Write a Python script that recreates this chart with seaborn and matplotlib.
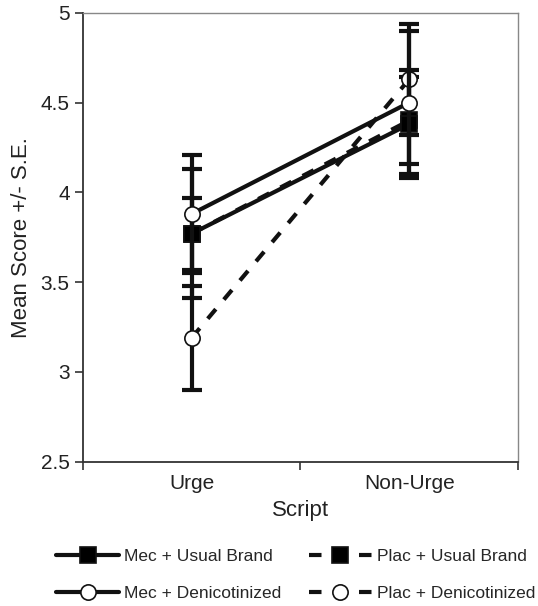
import matplotlib
matplotlib.use("Agg")
import matplotlib.pyplot as plt
import seaborn as sns

# Data
scripts = ["Urge", "Non-Urge"]
series_names = [
    "Mec + Usual Brand",
    "Mec + Denicotinized",
    "Plac + Usual Brand",
    "Plac + Denicotinized",
]
mec_usual = [3.77, 4.38]
mec_usual_se = [0.36, 0.30]
mec_denic = [3.88, 4.50]
mec_denic_se = [0.33, 0.40]
plac_usual = [3.77, 4.40]
plac_usual_se = [0.20, 0.24]
plac_denic = [3.19, 4.63]
plac_denic_se = [0.29, 0.31]

sns.set_style("ticks")
plt.rcParams["font.family"] = ["Liberation Sans", "DejaVu Sans"]

fig = plt.figure(figsize=(5.38, 6.06), dpi=100)
ax = fig.add_axes([0.154, 0.238, 0.809, 0.741])

series = [
    (plac_usual, plac_usual_se, "s", "black", (0, (3, 3)), series_names[2]),
    (plac_denic, plac_denic_se, "o", "white", (0, (3, 3)), series_names[3]),
    (mec_usual, mec_usual_se, "s", "black", "-", series_names[0]),
    (mec_denic, mec_denic_se, "o", "white", "-", series_names[1]),
]

handles = {}
for i, (vals, se, mk, face, ls, name) in enumerate(series):
    ax.errorbar(scripts, vals, yerr=se, fmt="none", ecolor="#111111",
                elinewidth=3, capsize=7, capthick=3, zorder=2 + i)
    sns.lineplot(x=scripts, y=vals, ax=ax, color="#111111", linewidth=3,
                 linestyle=ls, marker=mk, markersize=12 if mk == "s" else 11,
                 markerfacecolor=face, markeredgecolor="#111111",
                 markeredgewidth=1.2, zorder=3 + i)
    handles[name] = ax.lines[-1]

ax.set_xlim(-0.5, 1.5)
ax.set_ylim(2.5, 5)
ax.set_yticks([2.5, 3, 3.5, 4, 4.5, 5])
ax.set_yticklabels(["2.5", "3", "3.5", "4", "4.5", "5"])
ax.set_xticks([-0.5, 0.5, 1.5])
ax.set_xticklabels([])
ax.set_xticks([0, 1], labels=scripts, minor=True)
ax.tick_params(axis="x", which="minor", length=0, labelsize=15, pad=9,
               labelcolor="#222222")
ax.tick_params(axis="x", which="major", length=6, width=1.2, color="#333333")
ax.tick_params(axis="y", length=6, width=1.2, color="#333333", labelsize=15,
               labelcolor="#222222")

for side in ["left", "bottom"]:
    ax.spines[side].set_color("#333333")
    ax.spines[side].set_linewidth(1.3)
for side in ["top", "right"]:
    ax.spines[side].set_visible(True)
    ax.spines[side].set_color("#888888")
    ax.spines[side].set_linewidth(1.0)

ax.set_xlabel("Script", fontsize=16, labelpad=5, color="#222222")
ax.set_ylabel("Mean Score +/- S.E.", fontsize=16, labelpad=6, color="#222222")

fig.legend([handles[n] for n in series_names], series_names,
           loc="lower center", bbox_to_anchor=(0.55, -0.018), ncol=2,
           frameon=False, fontsize=12.5, handlelength=3.6, handletextpad=0.3,
           columnspacing=1.6, labelspacing=1.25)

plt.savefig("out.png", dpi=100)
